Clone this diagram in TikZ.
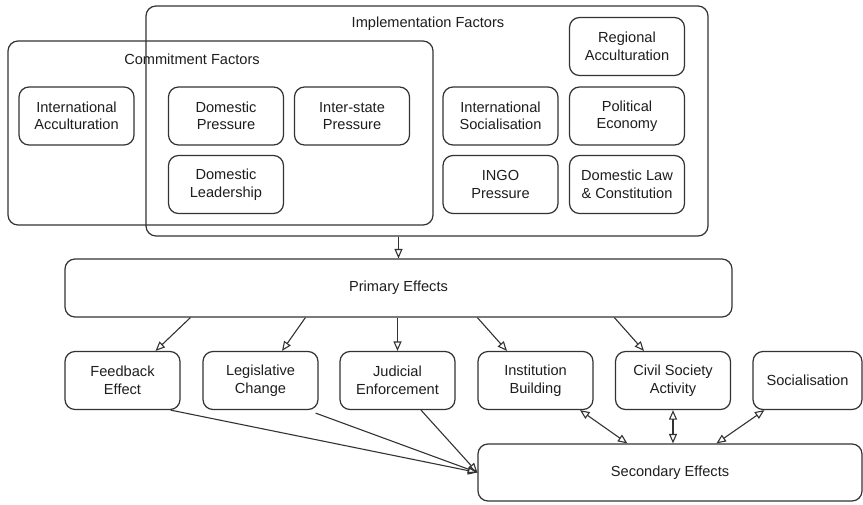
\documentclass[tikz,border=0pt]{standalone}
\usepackage{fontspec}
\setmainfont{Liberation Sans}
\usetikzlibrary{arrows.meta,calc}
\definecolor{ln}{HTML}{333333}
\definecolor{tx}{HTML}{1E1E1E}
\tikzset{
  box/.style={draw=ln, line width=1.2pt, rounded corners=10pt, align=center,
    text=tx, font=\fontsize{14.6}{17.5}\selectfont, inner sep=0pt},
  sbox/.style={box, minimum width=115pt, minimum height=58pt},
  ttl/.style={text=tx, font=\fontsize{14.6}{17.5}\selectfont, inner sep=0pt},
  arr/.style={draw=ln, line width=1.1pt, -{Triangle[open, length=9.5pt, width=8pt, line width=1.1pt]}},
  dbl/.style={draw=ln, line width=1.1pt, {Triangle[open, length=9.5pt, width=8pt, line width=1.1pt]}-{Triangle[open, length=9.5pt, width=8pt, line width=1.1pt]}}
}
\begin{document}
\begin{tikzpicture}[x=1pt, y=-1pt]
\useasboundingbox[fill=white] (0,0) rectangle (863,504);
% containers
\node[box, minimum width=562pt, minimum height=230pt] (impl) at (427,121) {};
\node[ttl] (implt) at (428,24) {Implementation Factors};
\node[box, minimum width=425pt, minimum height=184pt] (comm) at (220.5,133) {};
\node[ttl] (commt) at (192,59) {Commitment Factors};
% factor boxes
\node[sbox] (intacc) at (76.5,116) {International\\Acculturation};
\node[sbox] (dompres) at (226,116) {Domestic\\Pressure};
\node[sbox] (inter) at (352,116) {Inter-state\\Pressure};
\node[sbox] (domlead) at (226,184.5) {Domestic\\Leadership};
\node[sbox] (regacc) at (627,46.5) {Regional\\Acculturation};
\node[sbox] (intsoc) at (500.5,116) {International\\Socialisation};
\node[sbox] (poleco) at (627,116) {Political\\Economy};
\node[sbox] (ingo) at (500.5,184.5) {INGO\\Pressure};
\node[sbox] (domlaw) at (627,184.5) {Domestic Law\\\& Constitution};
% primary
\node[box, minimum width=667pt, minimum height=58pt] (prim) at (398.5,288) {Primary Effects};
% bottom row
\node[sbox] (fb) at (122.5,380.5) {Feedback\\Effect};
\node[sbox] (leg) at (260.5,380.5) {Legislative\\Change};
\node[sbox] (jud) at (397.5,380.5) {Judicial\\Enforcement};
\node[sbox] (inst) at (535.5,380.5) {Institution\\Building};
\node[sbox] (civ) at (673,380.5) {Civil Society\\Activity};
\node[box, minimum width=109pt, minimum height=58pt] (soc) at (807.5,380.5) {Socialisation};
% secondary
\node[box, minimum width=384pt, minimum height=57pt] (sec) at (670,472.5) {Secondary Effects};
% connectors
\draw[arr] (prim.north |- impl.south) -- (prim.north);
\draw[arr] ([xshift=126pt]prim.south west) -- ([xshift=33pt]fb.north);
\draw[arr] ([xshift=241pt]prim.south west) -- ([xshift=21.5pt]leg.north);
\draw[arr] (jud.north |- prim.south) -- (jud.north);
\draw[arr] ([xshift=413pt]prim.south west) -- ([xshift=-28.5pt]inst.north);
\draw[arr] ([xshift=550pt]prim.south west) -- ([xshift=-29pt]civ.north);
\draw[arr] ([xshift=-10pt]fb.south east) -- (sec.west);
\draw[arr] ([xshift=-3pt,yshift=-3pt]leg.south east) -- (sec.west);
\draw[arr] ([xshift=23.5pt]jud.south) -- (sec.west);
\draw[dbl] ([xshift=44.5pt]inst.south) -- ([xshift=150pt]sec.north west);
\draw[dbl] (civ.south) -- (civ.south |- sec.north);
\draw[dbl] ([xshift=12pt]soc.south west) -- ([xshift=239pt]sec.north west);
\end{tikzpicture}
\end{document}
